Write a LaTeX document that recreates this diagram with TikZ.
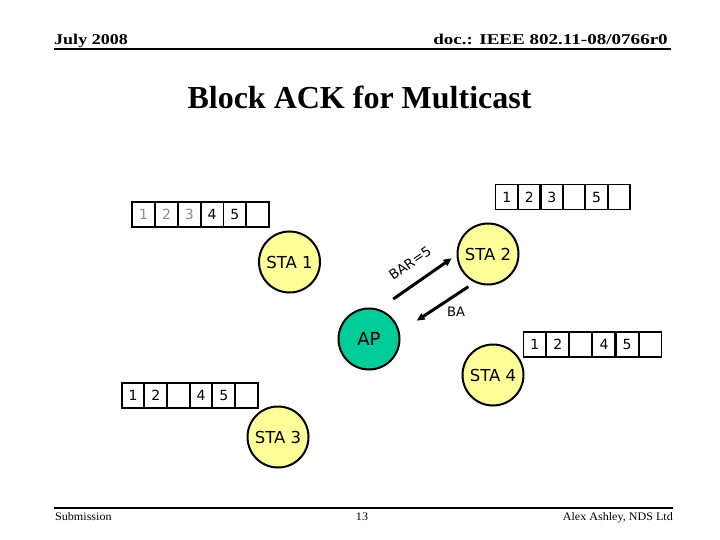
\documentclass[tikz,border=0pt]{standalone}
\usepackage{fontspec}
\setmainfont{Liberation Serif}
\newfontfamily\diagfont{DejaVu Sans}
\usetikzlibrary{arrows.meta}
\definecolor{stayellow}{RGB}{255,255,153}
\definecolor{apgreen}{RGB}{0,204,153}
\definecolor{digitgray}{RGB}{140,140,140}
\tikzset{
  sta/.style={circle, draw=black, line width=2pt, fill=stayellow, minimum size=61pt, inner sep=0pt, font=\diagfont\fontsize{16.5}{19}\selectfont},
  apnode/.style={sta, fill=apgreen, font=\diagfont\fontsize{18}{21}\selectfont},
  cell/.style={draw=black, line width=1.8pt, minimum width=22.8pt, minimum height=25pt, inner sep=0pt, font=\diagfont\fontsize{14}{16}\selectfont},
  msg/.style={line width=3pt, -{Triangle[length=8pt,width=7pt]}},
  lbl/.style={inner sep=0pt, font=\diagfont\fontsize{13.5}{15}\selectfont},
  rule/.style={line width=2.5pt}
}
\begin{document}
\begin{tikzpicture}[x=1pt,y=-1pt]
\useasboundingbox (0,0) rectangle (720,540);
% header and footer
\node[anchor=base west, inner sep=0pt, xscale=1.2, font=\bfseries\fontsize{15}{17}\selectfont] (hdl) at (54,44.5) {July 2008};
\node[anchor=base east, inner sep=0pt, xscale=1.27, font=\bfseries\fontsize{15}{17}\selectfont] (hdr) at (668,44.5) {doc.: IEEE 802.11-08/0766r0};
\coordinate (hl) at (54,49);
\coordinate (hr) at (671,49);
\draw[rule] (hl) -- (hr);
\node[anchor=base, inner sep=0pt, font=\bfseries\fontsize{32}{36}\selectfont] (title) at (359.5,109) {Block ACK for Multicast};
\coordinate (fl) at (54,508);
\coordinate (fr) at (673,508);
\draw[rule] (fl) -- (fr);
\node[anchor=base west, inner sep=0pt, xscale=1.05, font=\fontsize{11.5}{13}\selectfont] (fsub) at (55,520.5) {Submission};
\node[anchor=base, inner sep=0pt, xscale=1.05, font=\fontsize{11.5}{13}\selectfont] (fnum) at (362,520.5) {13};
\node[anchor=base east, inner sep=0pt, xscale=1.05, font=\fontsize{11.5}{13}\selectfont] (fauth) at (673,520.5) {Alex Ashley, NDS Ltd};
% stations
\node[sta] (sta1) at (289.5,262) {STA 1};
\node[sta] (sta2) at (488,254) {STA 2};
\node[apnode] (ap) at (369,339) {AP};
\node[sta] (sta4) at (493,375) {STA 4};
\node[sta] (sta3) at (278,437) {STA 3};
% buffers
\foreach \t [count=\i] in {{\textcolor{digitgray}{1}},{\textcolor{digitgray}{2}},{\textcolor{digitgray}{3}},4,5,{}}
  \node[cell] (bufa\i) at ({132.3+(\i-0.5)*22.8},214.5) {\t};
\foreach \t [count=\i] in {1,2,3,{},5,{}}
  \node[cell] (bufb\i) at ({495.7+(\i-0.5)*22.4},197) {\t};
\foreach \t [count=\i] in {1,2,{},4,5,{}}
  \node[cell] (bufd\i) at ({523.3+(\i-0.5)*23.05},344.2) {\t};
\foreach \t [count=\i] in {1,2,{},4,5,{}}
  \node[cell] (bufc\i) at ({121.7+(\i-0.5)*22.67},395.5) {\t};
% messages
\coordinate (barS) at (393.3,299);
\coordinate (barE) at (451.7,258.3);
\draw[msg] (barS) -- (barE);
\node[lbl, rotate=35] (barlbl) at (410,263) {BAR=5};
\coordinate (baS) at (468.3,286.7);
\coordinate (baE) at (416.7,320.7);
\draw[msg] (baS) -- (baE);
\node[lbl, font=\diagfont\fontsize{13}{15}\selectfont] (balbl) at (456,311.5) {BA};
\end{tikzpicture}
\end{document}
